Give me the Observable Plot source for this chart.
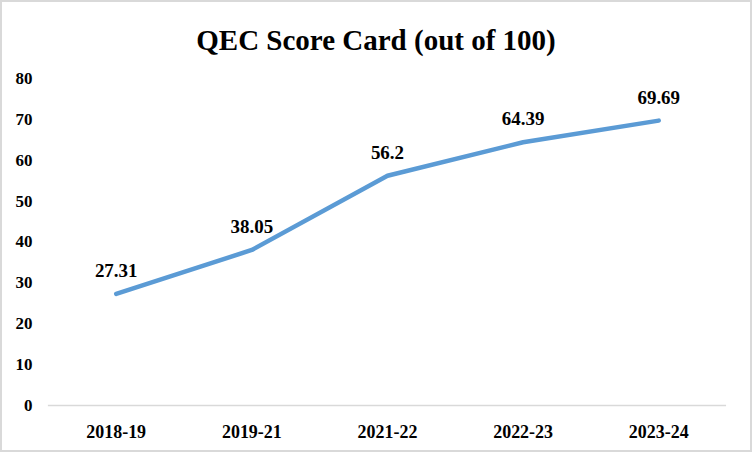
<!DOCTYPE html>
<html><head><meta charset="utf-8">
<script src="https://cdn.jsdelivr.net/npm/d3@7"></script>
<script src="https://cdn.jsdelivr.net/npm/@observablehq/plot@0.6"></script>
<style>
html,body{margin:0;padding:0;background:#fff;}
#wrap{position:relative;width:752px;height:452px;box-sizing:border-box;border:2px solid #d9d9d9;background:#fff;overflow:hidden;}
#title{position:absolute;left:0;top:21px;width:748px;text-align:center;font-family:"Liberation Serif","Times New Roman",serif;font-weight:bold;font-size:29px;color:#000;line-height:34px;}
#chart{position:absolute;left:-2px;top:60px;}
</style></head>
<body>
<div id="wrap"><div id="title">QEC Score Card (out of 100)</div><div id="chart"></div></div>
<script>
const years = ["2018-19","2019-21","2021-22","2022-23","2023-24"];
const scores = [27.31, 38.05, 56.2, 64.39, 69.69];
const labels = ["27.31","38.05","56.2","64.39","69.69"];
const yTicks = [0,10,20,30,40,50,60,70,80];
const data = years.map((y,i)=>({year:y, score:scores[i], label:labels[i]}));
const font = '"Liberation Serif","Times New Roman",serif';
const plot = Plot.plot({
  width: 752, height: 390,
  marginTop: 16, marginBottom: 46, marginLeft: 48, marginRight: 24,
  style: {fontFamily: font, fontSize: "17px", fontWeight: "bold", color: "#000", background: "transparent"},
  x: {type: "band", domain: years, padding: 0, axis: null},
  y: {domain: [0,80], axis: null},
  marks: [
    Plot.axisY(yTicks, {tickSize: 0, tickPadding: 16, fontSize: 17, fontWeight: "bold", fill: "#000", label: null}),
    Plot.axisX(years, {tickSize: 0, tickPadding: 20, fontSize: 18, fontWeight: "bold", fill: "#000", label: null}),
    Plot.ruleY([0], {stroke: "#d9d9d9", strokeWidth: 1.5}),
    Plot.line(data, {x: "year", y: "score", stroke: "#5B9BD5", strokeWidth: 4.5, strokeLinecap: "round", strokeLinejoin: "round"}),
    Plot.text(data, {x: "year", y: "score", text: "label", dy: -23, fill: "#000", fontSize: 19, fontWeight: "bold"})
  ]
});
document.getElementById("chart").appendChild(plot);
</script>
</body></html>
